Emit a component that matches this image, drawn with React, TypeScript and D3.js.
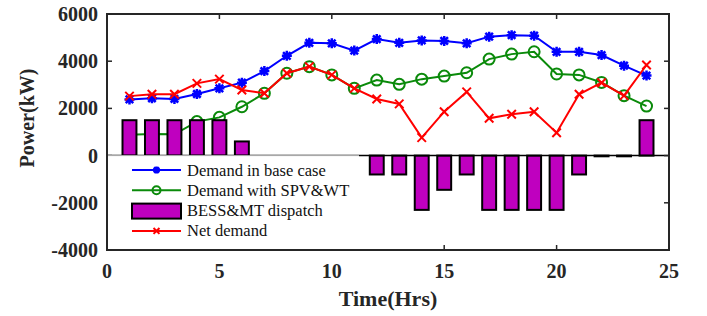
import React, { useEffect, useRef } from 'react';
import * as d3 from 'd3';

// hours 1..24
const hours = d3.range(1, 25);
const baseDemand = [2380, 2430, 2400, 2610, 2850, 3090, 3580, 4230, 4780, 4760, 4450, 4940, 4780, 4880, 4860, 4760, 5040, 5100, 5080, 4400, 4400, 4260, 3810, 3390];
const spvWtDemand = [880, 920, 900, 1440, 1620, 2070, 2640, 3490, 3770, 3420, 2850, 3200, 3020, 3240, 3370, 3510, 4090, 4300, 4400, 3460, 3420, 3100, 2540, 2100];
const bessMt = [1500, 1500, 1500, 1500, 1500, 600, 0, 0, 0, 0, 0, -800, -800, -2300, -1450, -800, -2300, -2300, -2300, -2300, -800, -30, -30, 1500];
const netDemand = [2520, 2600, 2600, 3060, 3240, 2780, 2640, 3490, 3770, 3420, 2850, 2400, 2190, 760, 1860, 2700, 1580, 1750, 1860, 970, 2600, 3090, 2540, 3840];
const xTicks = [0, 5, 10, 15, 20, 25];
const yTicks = [-4000, -2000, 0, 2000, 4000, 6000];

const W = 707, H = 316;
const FONT = '"Liberation Serif", "Times New Roman", serif';

const App = () => {
  const svgRef = useRef<SVGSVGElement>(null);

  useEffect(() => {
    const svg = d3.select(svgRef.current);
    svg.selectAll('*').remove();

    const left = 107, right = 669, top = 14, bottom = 250;
    const x = d3.scaleLinear().domain([0, 25]).range([left, right]);
    const y = d3.scaleLinear().domain([-4000, 6000]).range([bottom, top]);
    const axisColor = '#262626';

    const g = svg.append('g');

    const drawMarker = (sel: any, cx: number, cy: number, color: string, marker: string, r: number) => {
      if (marker === 'circle') {
        sel.append('circle')
          .attr('cx', cx).attr('cy', cy).attr('r', r + 0.5)
          .attr('fill', 'none').attr('stroke', color).attr('stroke-width', 2);
      } else if (marker === 'star') {
        const p = d3.path();
        p.moveTo(cx - r, cy); p.lineTo(cx + r, cy);
        p.moveTo(cx, cy - r); p.lineTo(cx, cy + r);
        const d = r * 0.75;
        p.moveTo(cx - d, cy - d); p.lineTo(cx + d, cy + d);
        p.moveTo(cx - d, cy + d); p.lineTo(cx + d, cy - d);
        sel.append('path').attr('d', p.toString())
          .attr('stroke', color).attr('stroke-width', 2.5).attr('fill', 'none');
      } else {
        const d = r * 0.85;
        const p = d3.path();
        p.moveTo(cx - d, cy - d); p.lineTo(cx + d, cy + d);
        p.moveTo(cx - d, cy + d); p.lineTo(cx + d, cy - d);
        sel.append('path').attr('d', p.toString())
          .attr('stroke', color).attr('stroke-width', 2).attr('fill', 'none');
      }
    };

    // line + markers
    const drawSeries = (vals: number[], color: string, marker: string) => {
      const line = d3.line<number>().x((_, i) => x(hours[i])).y(d => y(d));
      g.append('path')
        .attr('d', line(vals))
        .attr('fill', 'none')
        .attr('stroke', color)
        .attr('stroke-width', 2);
      vals.forEach((v, i) => drawMarker(g, x(hours[i]), y(v), color, marker, 5));
    };

    drawSeries(baseDemand, '#0000ff', 'star');
    drawSeries(spvWtDemand, '#0a8a0a', 'circle');
    drawSeries(netDemand, '#ff0000', 'x');

    // BESS&MT bars
    const bw = 0.62;
    g.selectAll('.bar')
      .data(bessMt)
      .enter().append('rect')
      .attr('x', (_, i) => x(hours[i] - bw / 2))
      .attr('y', d => y(Math.max(0, d)))
      .attr('width', x(bw) - x(0))
      .attr('height', d => Math.abs(y(d) - y(0)))
      .attr('fill', '#bf00bf')
      .attr('stroke', '#000')
      .attr('stroke-width', 2);

    // baseline
    g.append('line')
      .attr('x1', left).attr('x2', right)
      .attr('y1', y(0)).attr('y2', y(0))
      .attr('stroke', '#000').attr('stroke-width', 1.5);

    // axes box
    g.append('rect')
      .attr('x', left).attr('y', top)
      .attr('width', right - left).attr('height', bottom - top)
      .attr('fill', 'none').attr('stroke', axisColor).attr('stroke-width', 2);

    const tl = 5;
    xTicks.forEach(t => {
      g.append('line').attr('x1', x(t)).attr('x2', x(t)).attr('y1', bottom).attr('y2', bottom - tl)
        .attr('stroke', axisColor).attr('stroke-width', 1.5);
      g.append('line').attr('x1', x(t)).attr('x2', x(t)).attr('y1', top).attr('y2', top + tl)
        .attr('stroke', axisColor).attr('stroke-width', 1.5);
      g.append('text')
        .attr('x', x(t)).attr('y', bottom + 28)
        .attr('text-anchor', 'middle')
        .style('font-family', FONT).style('font-weight', 'bold').style('font-size', '20px')
        .style('fill', axisColor)
        .text(t);
    });
    yTicks.forEach(t => {
      g.append('line').attr('x1', left).attr('x2', left + tl).attr('y1', y(t)).attr('y2', y(t))
        .attr('stroke', axisColor).attr('stroke-width', 1.5);
      g.append('line').attr('x1', right).attr('x2', right - tl).attr('y1', y(t)).attr('y2', y(t))
        .attr('stroke', axisColor).attr('stroke-width', 1.5);
      g.append('text')
        .attr('x', left - 9).attr('y', y(t) + 7)
        .attr('text-anchor', 'end')
        .style('font-family', FONT).style('font-weight', 'bold').style('font-size', '20px')
        .style('fill', axisColor)
        .text(t);
    });

    // axis labels
    g.append('text')
      .attr('x', (left + right) / 2).attr('y', 306)
      .attr('text-anchor', 'middle')
      .style('font-family', FONT).style('font-weight', 'bold').style('font-size', '22px')
      .style('fill', axisColor)
      .text('Time(Hrs)');
    g.append('text')
      .attr('transform', 'translate(34,118) rotate(-90)')
      .attr('text-anchor', 'middle')
      .style('font-family', FONT).style('font-weight', 'bold').style('font-size', '20px')
      .style('fill', axisColor)
      .text('Power(kW)');

    // legend
    const lg = g.append('g');
    lg.append('rect')
      .attr('x', left + 1).attr('y', y(0))
      .attr('width', 359 - left - 1).attr('height', bottom - y(0) - 1)
      .attr('fill', '#fff');
    lg.append('line')
      .attr('x1', left + 1).attr('x2', 359)
      .attr('y1', y(0)).attr('y2', y(0))
      .attr('stroke', '#b0b0b0').attr('stroke-width', 1);
    const items = [
      { label: 'Demand in base case', color: '#0000ff', marker: 'star' },
      { label: 'Demand with SPV&WT', color: '#0a8a0a', marker: 'circle' },
      { label: 'BESS&MT dispatch', color: '#bf00bf', marker: 'bar' },
      { label: 'Net demand', color: '#ff0000', marker: 'x' },
    ];
    items.forEach((it, i) => {
      const cy = 170 + i * 20.3;
      if (it.marker === 'bar') {
        lg.append('rect')
          .attr('x', 132).attr('y', cy - 7)
          .attr('width', 49).attr('height', 15)
          .attr('fill', it.color).attr('stroke', '#000').attr('stroke-width', 2);
      } else {
        lg.append('line')
          .attr('x1', 132).attr('x2', 181).attr('y1', cy).attr('y2', cy)
          .attr('stroke', it.color).attr('stroke-width', 2);
        drawMarker(lg, 156.5, cy, it.color, it.marker, 3.5);
      }
      lg.append('text')
        .attr('x', 187).attr('y', cy + 5.5)
        .style('font-family', FONT).style('font-size', '16.5px')
        .style('fill', '#111')
        .text(it.label);
    });
  }, []);

  return (
    <svg ref={svgRef} width={W} height={H}
      style={{ position: 'absolute', left: 0, top: 0, background: '#fff' }} />
  );
};

export default App;
